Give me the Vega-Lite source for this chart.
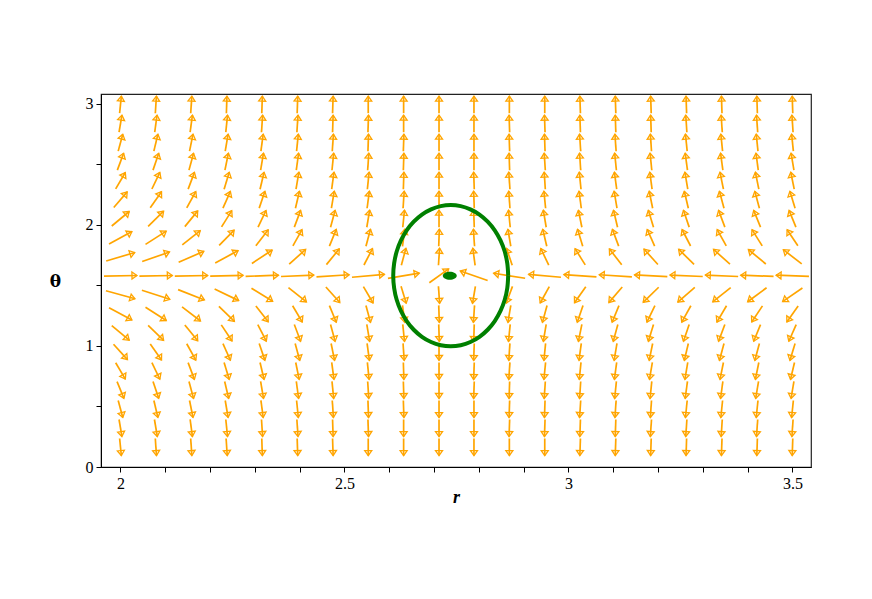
{
"$schema": "https://vega.github.io/schema/vega-lite/v6.json",
"width": 710, "height": 373,
"autosize": {"type": "none"},
"padding": {"left": 101, "top": 94, "right": 61, "bottom": 132},
"background": "white",
"config": {"view": {"stroke": "#222", "strokeWidth": 1.2}},
"datasets": {
"arrows": [
{"r":2,"t":0.165,"a":-87},{"r":2,"t":0.322,"a":-85},{"r":2,"t":0.479,"a":-82},{"r":2,"t":0.636,"a":-78},{"r":2,"t":0.793,"a":-73},{"r":2,"t":0.950,"a":-65},{"r":2,"t":1.107,"a":-58},{"r":2,"t":1.264,"a":-46},{"r":2,"t":1.422,"a":-28},{"r":2,"t":1.579,"a":2},{"r":2,"t":1.736,"a":30},{"r":2,"t":1.893,"a":46},{"r":2,"t":2.050,"a":58},{"r":2,"t":2.207,"a":66},{"r":2,"t":2.364,"a":73},{"r":2,"t":2.521,"a":79},{"r":2,"t":2.678,"a":82},{"r":2,"t":2.835,"a":85},{"r":2,"t":2.992,"a":87},
{"r":2.079,"t":0.165,"a":-88},{"r":2.079,"t":0.322,"a":-85},{"r":2.079,"t":0.479,"a":-83},{"r":2.079,"t":0.636,"a":-80},{"r":2.079,"t":0.793,"a":-76},{"r":2.079,"t":0.950,"a":-70},{"r":2.079,"t":1.107,"a":-62},{"r":2.079,"t":1.264,"a":-51},{"r":2.079,"t":1.422,"a":-32},{"r":2.079,"t":1.579,"a":2},{"r":2.079,"t":1.736,"a":34},{"r":2.079,"t":1.893,"a":51},{"r":2.079,"t":2.050,"a":62},{"r":2.079,"t":2.207,"a":70},{"r":2.079,"t":2.364,"a":76},{"r":2.079,"t":2.521,"a":80},{"r":2.079,"t":2.678,"a":83},{"r":2.079,"t":2.835,"a":86},{"r":2.079,"t":2.992,"a":88},
{"r":2.158,"t":0.165,"a":-88},{"r":2.158,"t":0.322,"a":-86},{"r":2.158,"t":0.479,"a":-84},{"r":2.158,"t":0.636,"a":-82},{"r":2.158,"t":0.793,"a":-79},{"r":2.158,"t":0.950,"a":-74},{"r":2.158,"t":1.107,"a":-67},{"r":2.158,"t":1.264,"a":-56},{"r":2.158,"t":1.422,"a":-37},{"r":2.158,"t":1.579,"a":2},{"r":2.158,"t":1.736,"a":40},{"r":2.158,"t":1.893,"a":57},{"r":2.158,"t":2.050,"a":67},{"r":2.158,"t":2.207,"a":74},{"r":2.158,"t":2.364,"a":79},{"r":2.158,"t":2.521,"a":82},{"r":2.158,"t":2.678,"a":84},{"r":2.158,"t":2.835,"a":86},{"r":2.158,"t":2.992,"a":88},
{"r":2.237,"t":0.165,"a":-88},{"r":2.237,"t":0.322,"a":-87},{"r":2.237,"t":0.479,"a":-85},{"r":2.237,"t":0.636,"a":-83},{"r":2.237,"t":0.793,"a":-81},{"r":2.237,"t":0.950,"a":-77},{"r":2.237,"t":1.107,"a":-71},{"r":2.237,"t":1.264,"a":-62},{"r":2.237,"t":1.422,"a":-43},{"r":2.237,"t":1.579,"a":3},{"r":2.237,"t":1.736,"a":46},{"r":2.237,"t":1.893,"a":63},{"r":2.237,"t":2.050,"a":72},{"r":2.237,"t":2.207,"a":77},{"r":2.237,"t":2.364,"a":81},{"r":2.237,"t":2.521,"a":84},{"r":2.237,"t":2.678,"a":85},{"r":2.237,"t":2.835,"a":87},{"r":2.237,"t":2.992,"a":89},
{"r":2.316,"t":0.165,"a":-89},{"r":2.316,"t":0.322,"a":-88},{"r":2.316,"t":0.479,"a":-86},{"r":2.316,"t":0.636,"a":-85},{"r":2.316,"t":0.793,"a":-83},{"r":2.316,"t":0.950,"a":-80},{"r":2.316,"t":1.107,"a":-75},{"r":2.316,"t":1.264,"a":-68},{"r":2.316,"t":1.422,"a":-50},{"r":2.316,"t":1.579,"a":4},{"r":2.316,"t":1.736,"a":52},{"r":2.316,"t":1.893,"a":68},{"r":2.316,"t":2.050,"a":76},{"r":2.316,"t":2.207,"a":80},{"r":2.316,"t":2.364,"a":83},{"r":2.316,"t":2.521,"a":85},{"r":2.316,"t":2.678,"a":86},{"r":2.316,"t":2.835,"a":88},{"r":2.316,"t":2.992,"a":89},
{"r":2.395,"t":0.165,"a":-89},{"r":2.395,"t":0.322,"a":-88},{"r":2.395,"t":0.479,"a":-87},{"r":2.395,"t":0.636,"a":-86},{"r":2.395,"t":0.793,"a":-84},{"r":2.395,"t":0.950,"a":-82},{"r":2.395,"t":1.107,"a":-79},{"r":2.395,"t":1.264,"a":-73},{"r":2.395,"t":1.422,"a":-57},{"r":2.395,"t":1.579,"a":5},{"r":2.395,"t":1.736,"a":60},{"r":2.395,"t":1.893,"a":74},{"r":2.395,"t":2.050,"a":79},{"r":2.395,"t":2.207,"a":83},{"r":2.395,"t":2.364,"a":85},{"r":2.395,"t":2.521,"a":86},{"r":2.395,"t":2.678,"a":87},{"r":2.395,"t":2.835,"a":88},{"r":2.395,"t":2.992,"a":89},
{"r":2.474,"t":0.165,"a":-89},{"r":2.474,"t":0.322,"a":-89},{"r":2.474,"t":0.479,"a":-88},{"r":2.474,"t":0.636,"a":-87},{"r":2.474,"t":0.793,"a":-86},{"r":2.474,"t":0.950,"a":-84},{"r":2.474,"t":1.107,"a":-82},{"r":2.474,"t":1.264,"a":-78},{"r":2.474,"t":1.422,"a":-65},{"r":2.474,"t":1.579,"a":7},{"r":2.474,"t":1.736,"a":67},{"r":2.474,"t":1.893,"a":78},{"r":2.474,"t":2.050,"a":82},{"r":2.474,"t":2.207,"a":85},{"r":2.474,"t":2.364,"a":86},{"r":2.474,"t":2.521,"a":87},{"r":2.474,"t":2.678,"a":88},{"r":2.474,"t":2.835,"a":89},{"r":2.474,"t":2.992,"a":89},
{"r":2.553,"t":0.165,"a":-90},{"r":2.553,"t":0.322,"a":-89},{"r":2.553,"t":0.479,"a":-89},{"r":2.553,"t":0.636,"a":-88},{"r":2.553,"t":0.793,"a":-87},{"r":2.553,"t":0.950,"a":-86},{"r":2.553,"t":1.107,"a":-85},{"r":2.553,"t":1.264,"a":-82},{"r":2.553,"t":1.422,"a":-73},{"r":2.553,"t":1.579,"a":10},{"r":2.553,"t":1.736,"a":75},{"r":2.553,"t":1.893,"a":82},{"r":2.553,"t":2.050,"a":85},{"r":2.553,"t":2.207,"a":86},{"r":2.553,"t":2.364,"a":87},{"r":2.553,"t":2.521,"a":88},{"r":2.553,"t":2.678,"a":89},{"r":2.553,"t":2.835,"a":89},{"r":2.553,"t":2.992,"a":90},
{"r":2.632,"t":0.165,"a":-90},{"r":2.632,"t":0.322,"a":-90},{"r":2.632,"t":0.479,"a":-89},{"r":2.632,"t":0.636,"a":-89},{"r":2.632,"t":0.793,"a":-89},{"r":2.632,"t":0.950,"a":-88},{"r":2.632,"t":1.107,"a":-87},{"r":2.632,"t":1.264,"a":-86},{"r":2.632,"t":1.422,"a":-81},{"r":2.632,"t":1.579,"a":18},{"r":2.632,"t":1.736,"a":82},{"r":2.632,"t":1.893,"a":86},{"r":2.632,"t":2.050,"a":87},{"r":2.632,"t":2.207,"a":88},{"r":2.632,"t":2.364,"a":89},{"r":2.632,"t":2.521,"a":89},{"r":2.632,"t":2.678,"a":89},{"r":2.632,"t":2.835,"a":90},{"r":2.632,"t":2.992,"a":90},
{"r":2.711,"t":0.165,"a":-90},{"r":2.711,"t":0.322,"a":-90},{"r":2.711,"t":0.479,"a":-90},{"r":2.711,"t":0.636,"a":-90},{"r":2.711,"t":0.793,"a":-90},{"r":2.711,"t":0.950,"a":-90},{"r":2.711,"t":1.107,"a":-89},{"r":2.711,"t":1.264,"a":-89},{"r":2.711,"t":1.422,"a":-88},{"r":2.711,"t":1.579,"a":54},{"r":2.711,"t":1.736,"a":88},{"r":2.711,"t":1.893,"a":89},{"r":2.711,"t":2.050,"a":90},{"r":2.711,"t":2.207,"a":90},{"r":2.711,"t":2.364,"a":90},{"r":2.711,"t":2.521,"a":90},{"r":2.711,"t":2.678,"a":90},{"r":2.711,"t":2.835,"a":90},{"r":2.711,"t":2.992,"a":90},
{"r":2.789,"t":0.165,"a":-90},{"r":2.789,"t":0.322,"a":-90},{"r":2.789,"t":0.479,"a":-90},{"r":2.789,"t":0.636,"a":-91},{"r":2.789,"t":0.793,"a":-91},{"r":2.789,"t":0.950,"a":-91},{"r":2.789,"t":1.107,"a":-91},{"r":2.789,"t":1.264,"a":-92},{"r":2.789,"t":1.422,"a":-95},{"r":2.789,"t":1.579,"a":146},{"r":2.789,"t":1.736,"a":94},{"r":2.789,"t":1.893,"a":92},{"r":2.789,"t":2.050,"a":91},{"r":2.789,"t":2.207,"a":91},{"r":2.789,"t":2.364,"a":91},{"r":2.789,"t":2.521,"a":90},{"r":2.789,"t":2.678,"a":90},{"r":2.789,"t":2.835,"a":90},{"r":2.789,"t":2.992,"a":90},
{"r":2.868,"t":0.165,"a":-90},{"r":2.868,"t":0.322,"a":-91},{"r":2.868,"t":0.479,"a":-91},{"r":2.868,"t":0.636,"a":-91},{"r":2.868,"t":0.793,"a":-92},{"r":2.868,"t":0.950,"a":-92},{"r":2.868,"t":1.107,"a":-93},{"r":2.868,"t":1.264,"a":-95},{"r":2.868,"t":1.422,"a":-101},{"r":2.868,"t":1.579,"a":163},{"r":2.868,"t":1.736,"a":100},{"r":2.868,"t":1.893,"a":95},{"r":2.868,"t":2.050,"a":93},{"r":2.868,"t":2.207,"a":92},{"r":2.868,"t":2.364,"a":92},{"r":2.868,"t":2.521,"a":91},{"r":2.868,"t":2.678,"a":91},{"r":2.868,"t":2.835,"a":91},{"r":2.868,"t":2.992,"a":90},
{"r":2.947,"t":0.165,"a":-90},{"r":2.947,"t":0.322,"a":-91},{"r":2.947,"t":0.479,"a":-91},{"r":2.947,"t":0.636,"a":-92},{"r":2.947,"t":0.793,"a":-93},{"r":2.947,"t":0.950,"a":-93},{"r":2.947,"t":1.107,"a":-95},{"r":2.947,"t":1.264,"a":-98},{"r":2.947,"t":1.422,"a":-106},{"r":2.947,"t":1.579,"a":170},{"r":2.947,"t":1.736,"a":104},{"r":2.947,"t":1.893,"a":97},{"r":2.947,"t":2.050,"a":95},{"r":2.947,"t":2.207,"a":93},{"r":2.947,"t":2.364,"a":92},{"r":2.947,"t":2.521,"a":92},{"r":2.947,"t":2.678,"a":91},{"r":2.947,"t":2.835,"a":91},{"r":2.947,"t":2.992,"a":90},
{"r":3.026,"t":0.165,"a":-91},{"r":3.026,"t":0.322,"a":-91},{"r":3.026,"t":0.479,"a":-92},{"r":3.026,"t":0.636,"a":-92},{"r":3.026,"t":0.793,"a":-93},{"r":3.026,"t":0.950,"a":-94},{"r":3.026,"t":1.107,"a":-96},{"r":3.026,"t":1.264,"a":-100},{"r":3.026,"t":1.422,"a":-110},{"r":3.026,"t":1.579,"a":172},{"r":3.026,"t":1.736,"a":108},{"r":3.026,"t":1.893,"a":99},{"r":3.026,"t":2.050,"a":96},{"r":3.026,"t":2.207,"a":94},{"r":3.026,"t":2.364,"a":93},{"r":3.026,"t":2.521,"a":92},{"r":3.026,"t":2.678,"a":92},{"r":3.026,"t":2.835,"a":91},{"r":3.026,"t":2.992,"a":91},
{"r":3.105,"t":0.165,"a":-91},{"r":3.105,"t":0.322,"a":-91},{"r":3.105,"t":0.479,"a":-92},{"r":3.105,"t":0.636,"a":-93},{"r":3.105,"t":0.793,"a":-94},{"r":3.105,"t":0.950,"a":-95},{"r":3.105,"t":1.107,"a":-98},{"r":3.105,"t":1.264,"a":-102},{"r":3.105,"t":1.422,"a":-114},{"r":3.105,"t":1.579,"a":173},{"r":3.105,"t":1.736,"a":112},{"r":3.105,"t":1.893,"a":101},{"r":3.105,"t":2.050,"a":97},{"r":3.105,"t":2.207,"a":95},{"r":3.105,"t":2.364,"a":94},{"r":3.105,"t":2.521,"a":93},{"r":3.105,"t":2.678,"a":92},{"r":3.105,"t":2.835,"a":91},{"r":3.105,"t":2.992,"a":91},
{"r":3.184,"t":0.165,"a":-91},{"r":3.184,"t":0.322,"a":-92},{"r":3.184,"t":0.479,"a":-92},{"r":3.184,"t":0.636,"a":-93},{"r":3.184,"t":0.793,"a":-95},{"r":3.184,"t":0.950,"a":-96},{"r":3.184,"t":1.107,"a":-99},{"r":3.184,"t":1.264,"a":-104},{"r":3.184,"t":1.422,"a":-118},{"r":3.184,"t":1.579,"a":174},{"r":3.184,"t":1.736,"a":115},{"r":3.184,"t":1.893,"a":103},{"r":3.184,"t":2.050,"a":99},{"r":3.184,"t":2.207,"a":96},{"r":3.184,"t":2.364,"a":94},{"r":3.184,"t":2.521,"a":93},{"r":3.184,"t":2.678,"a":92},{"r":3.184,"t":2.835,"a":91},{"r":3.184,"t":2.992,"a":91},
{"r":3.263,"t":0.165,"a":-91},{"r":3.263,"t":0.322,"a":-92},{"r":3.263,"t":0.479,"a":-93},{"r":3.263,"t":0.636,"a":-94},{"r":3.263,"t":0.793,"a":-95},{"r":3.263,"t":0.950,"a":-97},{"r":3.263,"t":1.107,"a":-100},{"r":3.263,"t":1.264,"a":-106},{"r":3.263,"t":1.422,"a":-121},{"r":3.263,"t":1.579,"a":175},{"r":3.263,"t":1.736,"a":118},{"r":3.263,"t":1.893,"a":105},{"r":3.263,"t":2.050,"a":100},{"r":3.263,"t":2.207,"a":97},{"r":3.263,"t":2.364,"a":95},{"r":3.263,"t":2.521,"a":94},{"r":3.263,"t":2.678,"a":93},{"r":3.263,"t":2.835,"a":92},{"r":3.263,"t":2.992,"a":91},
{"r":3.342,"t":0.165,"a":-91},{"r":3.342,"t":0.322,"a":-92},{"r":3.342,"t":0.479,"a":-93},{"r":3.342,"t":0.636,"a":-94},{"r":3.342,"t":0.793,"a":-96},{"r":3.342,"t":0.950,"a":-98},{"r":3.342,"t":1.107,"a":-101},{"r":3.342,"t":1.264,"a":-107},{"r":3.342,"t":1.422,"a":-123},{"r":3.342,"t":1.579,"a":175},{"r":3.342,"t":1.736,"a":120},{"r":3.342,"t":1.893,"a":106},{"r":3.342,"t":2.050,"a":101},{"r":3.342,"t":2.207,"a":98},{"r":3.342,"t":2.364,"a":96},{"r":3.342,"t":2.521,"a":94},{"r":3.342,"t":2.678,"a":93},{"r":3.342,"t":2.835,"a":92},{"r":3.342,"t":2.992,"a":91},
{"r":3.421,"t":0.165,"a":-91},{"r":3.421,"t":0.322,"a":-92},{"r":3.421,"t":0.479,"a":-93},{"r":3.421,"t":0.636,"a":-95},{"r":3.421,"t":0.793,"a":-96},{"r":3.421,"t":0.950,"a":-98},{"r":3.421,"t":1.107,"a":-102},{"r":3.421,"t":1.264,"a":-109},{"r":3.421,"t":1.422,"a":-125},{"r":3.421,"t":1.579,"a":176},{"r":3.421,"t":1.736,"a":122},{"r":3.421,"t":1.893,"a":108},{"r":3.421,"t":2.050,"a":102},{"r":3.421,"t":2.207,"a":98},{"r":3.421,"t":2.364,"a":96},{"r":3.421,"t":2.521,"a":94},{"r":3.421,"t":2.678,"a":93},{"r":3.421,"t":2.835,"a":92},{"r":3.421,"t":2.992,"a":91},
{"r":3.5,"t":0.165,"a":-91},{"r":3.5,"t":0.322,"a":-92},{"r":3.5,"t":0.479,"a":-93},{"r":3.5,"t":0.636,"a":-95},{"r":3.5,"t":0.793,"a":-97},{"r":3.5,"t":0.950,"a":-99},{"r":3.5,"t":1.107,"a":-103},{"r":3.5,"t":1.264,"a":-110},{"r":3.5,"t":1.422,"a":-127},{"r":3.5,"t":1.579,"a":176},{"r":3.5,"t":1.736,"a":124},{"r":3.5,"t":1.893,"a":109},{"r":3.5,"t":2.050,"a":102},{"r":3.5,"t":2.207,"a":99},{"r":3.5,"t":2.364,"a":96},{"r":3.5,"t":2.521,"a":95},{"r":3.5,"t":2.678,"a":93},{"r":3.5,"t":2.835,"a":92},{"r":3.5,"t":2.992,"a":91}
],
"orbit": [
{"i":0,"r":2.8654,"t":1.580},{"i":1,"r":2.8634,"t":1.6812},{"i":2,"r":2.8577,"t":1.7794},{"i":3,"r":2.8482,"t":1.8715},{"i":4,"r":2.8354,"t":1.9548},{"i":5,"r":2.8196,"t":2.0266},{"i":6,"r":2.8013,"t":2.0849},{"i":7,"r":2.7810,"t":2.1279},{"i":8,"r":2.7594,"t":2.1541},{"i":9,"r":2.7371,"t":2.163},{"i":10,"r":2.7148,"t":2.1541},{"i":11,"r":2.6932,"t":2.1279},{"i":12,"r":2.6729,"t":2.0849},{"i":13,"r":2.6546,"t":2.0266},{"i":14,"r":2.6388,"t":1.9548},{"i":15,"r":2.6260,"t":1.8715},{"i":16,"r":2.6165,"t":1.7794},{"i":17,"r":2.6108,"t":1.6812},{"i":18,"r":2.6088,"t":1.580},{"i":19,"r":2.6108,"t":1.4788},{"i":20,"r":2.6165,"t":1.3806},{"i":21,"r":2.6260,"t":1.2885},{"i":22,"r":2.6388,"t":1.2052},{"i":23,"r":2.6546,"t":1.1334},{"i":24,"r":2.6729,"t":1.0751},{"i":25,"r":2.6932,"t":1.0321},{"i":26,"r":2.7148,"t":1.0059},{"i":27,"r":2.7371,"t":0.997},{"i":28,"r":2.7594,"t":1.0059},{"i":29,"r":2.7810,"t":1.0321},{"i":30,"r":2.8013,"t":1.0751},{"i":31,"r":2.8196,"t":1.1334},{"i":32,"r":2.8354,"t":1.2052},{"i":33,"r":2.8482,"t":1.2885},{"i":34,"r":2.8577,"t":1.3806},{"i":35,"r":2.8634,"t":1.4788},{"i":36,"r":2.8654,"t":1.580}
],
"eq": [{"r":2.735,"t":1.579}]
},
"encoding": {
"x": {"type": "quantitative", "title": "r", "scale": {"domain": [1.9565, 3.5413], "nice": false, "zero": false},
"axis": {"values": [2,2.1,2.2,2.3,2.4,2.5,2.6,2.7,2.8,2.9,3,3.1,3.2,3.3,3.4,3.5], "format": "~g",
"labelExpr": "(datum.value == 2 || datum.value == 2.5 || datum.value == 3 || datum.value == 3.5) ? datum.label : ''",
"grid": false, "tickSize": 5, "tickColor": "#000", "domainColor": "#000", "labelColor": "#000",
"labelFont": "Liberation Serif", "labelFontSize": 16, "labelPadding": 3,
"titleFont": "Liberation Serif", "titleFontSize": 18, "titleFontStyle": "italic", "titleFontWeight": "bold",
"titleColor": "#000", "titleBaseline": "middle", "titleY": 30, "titleX": 355}},
"y": {"type": "quantitative", "title": "θ", "scale": {"domain": [0, 3.08], "nice": false, "zero": false},
"axis": {"values": [0,0.5,1,1.5,2,2.5,3], "format": "~g", "labelExpr": "(datum.value % 1 == 0) ? datum.label : ''",
"grid": false, "tickSize": 5, "tickColor": "#000", "domainColor": "#000", "labelColor": "#000",
"labelFont": "Liberation Serif", "labelFontSize": 16, "labelPadding": 3,
"titleFont": "DejaVu Serif", "titleFontSize": 17, "titleFontWeight": "bold", "titleAngle": 0,
"titleColor": "#000", "titleAlign": "center", "titleBaseline": "middle", "titleX": -46, "titleY": 187}}
},
"layer": [
{
"data": {"name": "arrows"},
"transform": [
{"calculate": "datum.a*PI/180", "as": "ar"},
{"calculate": "datum.r - 0.0368*cos(datum.ar)", "as": "x1"},
{"calculate": "datum.r + 0.0368*cos(datum.ar)", "as": "x2"},
{"calculate": "datum.t - 0.0705*sin(datum.ar)", "as": "y1"},
{"calculate": "datum.t + 0.0705*sin(datum.ar)", "as": "y2"},
{"calculate": "atan2(35.37*cos(datum.ar), 19.0*sin(datum.ar))*180/PI", "as": "hd"}
],
"layer": [
{
"mark": {"type": "rule", "color": "#FFA500", "strokeWidth": 1.7},
"encoding": {
"x": {"field": "x1", "type": "quantitative", "title": "r"},
"y": {"field": "y1", "type": "quantitative", "title": "θ"},
"x2": {"field": "x2"},
"y2": {"field": "y2"}
}
},
{
"mark": {"type": "point", "shape": "M0,0L-0.7,1L0.7,1Z", "filled": false, "stroke": "#FFA500", "strokeWidth": 1.3, "size": 100, "opacity": 1},
"encoding": {
"x": {"field": "x2", "type": "quantitative", "title": "r"},
"y": {"field": "y2", "type": "quantitative", "title": "θ"},
"angle": {"field": "hd", "type": "quantitative", "scale": null}
}
}
]
},
{
"data": {"name": "orbit"},
"mark": {"type": "line", "color": "#008000", "strokeWidth": 4, "interpolate": "cardinal"},
"encoding": {
"x": {"field": "r", "type": "quantitative", "title": "r"},
"y": {"field": "t", "type": "quantitative", "title": "θ"},
"order": {"field": "i", "type": "quantitative"}
}
},
{
"data": {"name": "eq"},
"mark": {"type": "point", "shape": "M-1,0A1,0.57,0,1,0,1,0A1,0.57,0,1,0,-1,0Z", "filled": true, "color": "#008000", "size": 196, "opacity": 1},
"encoding": {
"x": {"field": "r", "type": "quantitative", "title": "r"},
"y": {"field": "t", "type": "quantitative", "title": "θ"}
}
}
]
}
